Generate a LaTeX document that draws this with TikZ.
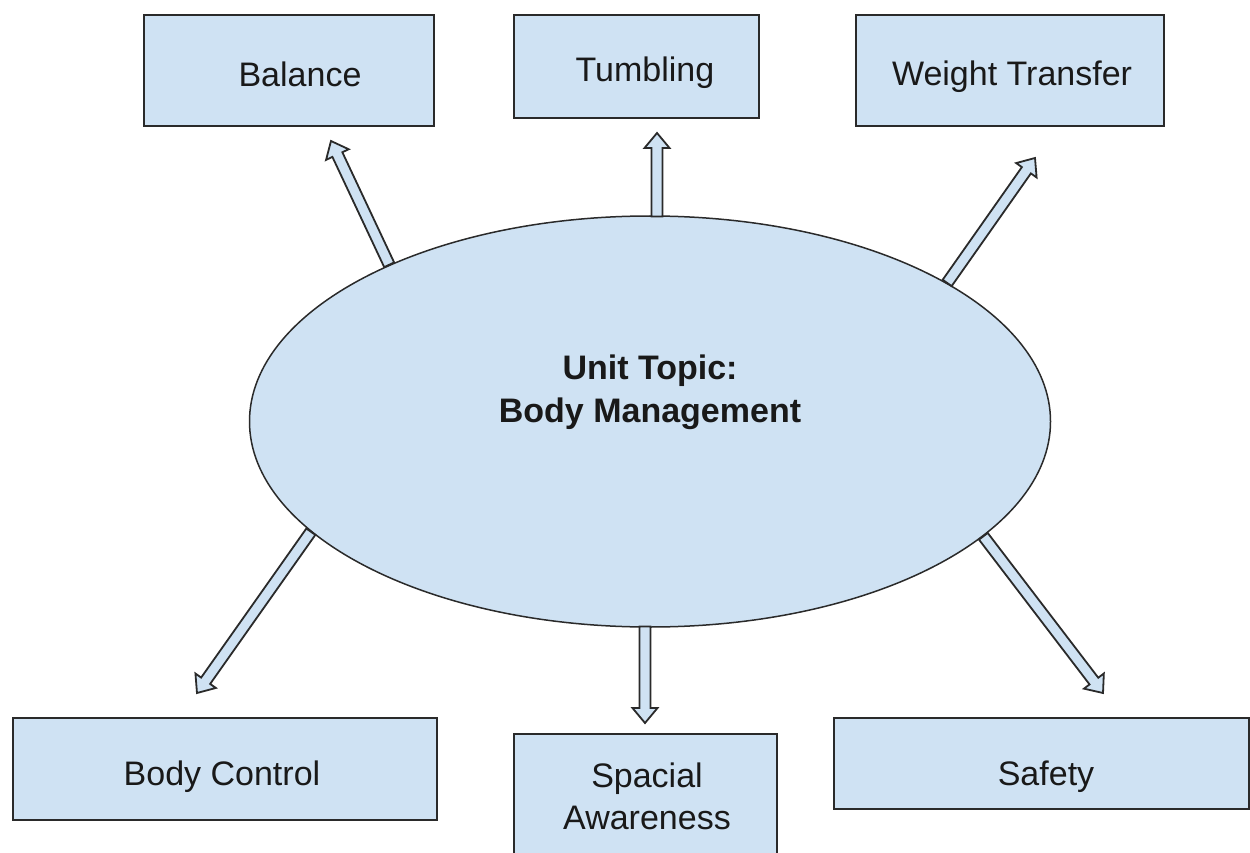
\documentclass[tikz,border=0pt]{standalone}
\usepackage{fontspec}
\setmainfont{Liberation Sans}
\usetikzlibrary{calc,shapes.geometric}
\definecolor{boxfill}{HTML}{CFE2F3}
\definecolor{edge}{HTML}{2A2A2A}
\newcommand{\blockarrow}[2]{%
  \coordinate (hh) at ($(#2)!15pt!(#1)$);
  \filldraw[blk] ($(#1)!5.5pt!90:(#2)$) -- ($(hh)!5.5pt!90:(#2)$) -- ($(hh)!12.5pt!90:(#2)$) -- (#2)
     -- ($(hh)!12.5pt!-90:(#2)$) -- ($(hh)!5.5pt!-90:(#2)$) -- ($(#1)!5.5pt!-90:(#2)$) -- cycle;}
\begin{document}
\begin{tikzpicture}[x=1pt,y=-1pt,
  box/.style={draw=edge, line width=1.6pt, fill=boxfill, rectangle, inner sep=0pt, anchor=north west},
  lbl/.style={font=\fontsize{34}{38}\selectfont, text=black!90, anchor=base, inner sep=0pt},
  blk/.style={draw=edge, line width=1.8pt, fill=boxfill, line join=miter}]
\useasboundingbox (0,0) rectangle (1250,853);
% boxes
\node[box, minimum width=290pt, minimum height=111pt] (bal) at (143,14) {};
\node[box, minimum width=245pt, minimum height=103pt] (tum) at (513,14) {};
\node[box, minimum width=308pt, minimum height=111pt] (wt) at (855,14) {};
\node[box, minimum width=424pt, minimum height=102pt] (bc) at (12,717) {};
\node[box, minimum width=263pt, minimum height=150pt] (sa) at (513,733) {};
\node[box, minimum width=415pt, minimum height=91pt] (saf) at (833,717) {};
% labels
\node[lbl] (balT) at (300,87) {Balance};
\node[lbl] (tumT) at (645,82) {Tumbling};
\node[lbl] (wtT) at (1012,86) {Weight Transfer};
\node[lbl] (bcT) at (222,785) {Body Control};
\node[lbl] (saT1) at (647,787) {Spacial};
\node[lbl] (saT2) at (647,829) {Awareness};
\node[lbl] (safT) at (1046,785) {Safety};
% ellipse
\node[ellipse, draw=edge, line width=1.5pt, fill=boxfill, minimum width=801pt, minimum height=411pt, inner sep=0pt] (E) at (650,421.5) {};
\node[lbl, font=\bfseries\fontsize{34}{38}\selectfont] (u1) at (650,379) {Unit Topic:};
\node[lbl, font=\bfseries\fontsize{34}{38}\selectfont] (u2) at (650,422) {Body Management};
% arrow bases on the ellipse border
\coordinate (bTum) at (657,216.5);
\coordinate (bSa) at (645,626.5);
% arrow tips
\coordinate (tBal) at (331,141);
\coordinate (tTum) at (657,133);
\coordinate (tWt) at (1035,158);
\coordinate (tBc) at (197,693);
\coordinate (tSa) at (645,723);
\coordinate (tSaf) at (1103,693);
\blockarrow{E.149.5}{tBal}
\blockarrow{bTum}{tTum}
\blockarrow{E.25.3}{tWt}
\blockarrow{E.198.7}{tBc}
\blockarrow{bSa}{tSa}
\blockarrow{E.341.3}{tSaf}
\end{tikzpicture}
\end{document}
